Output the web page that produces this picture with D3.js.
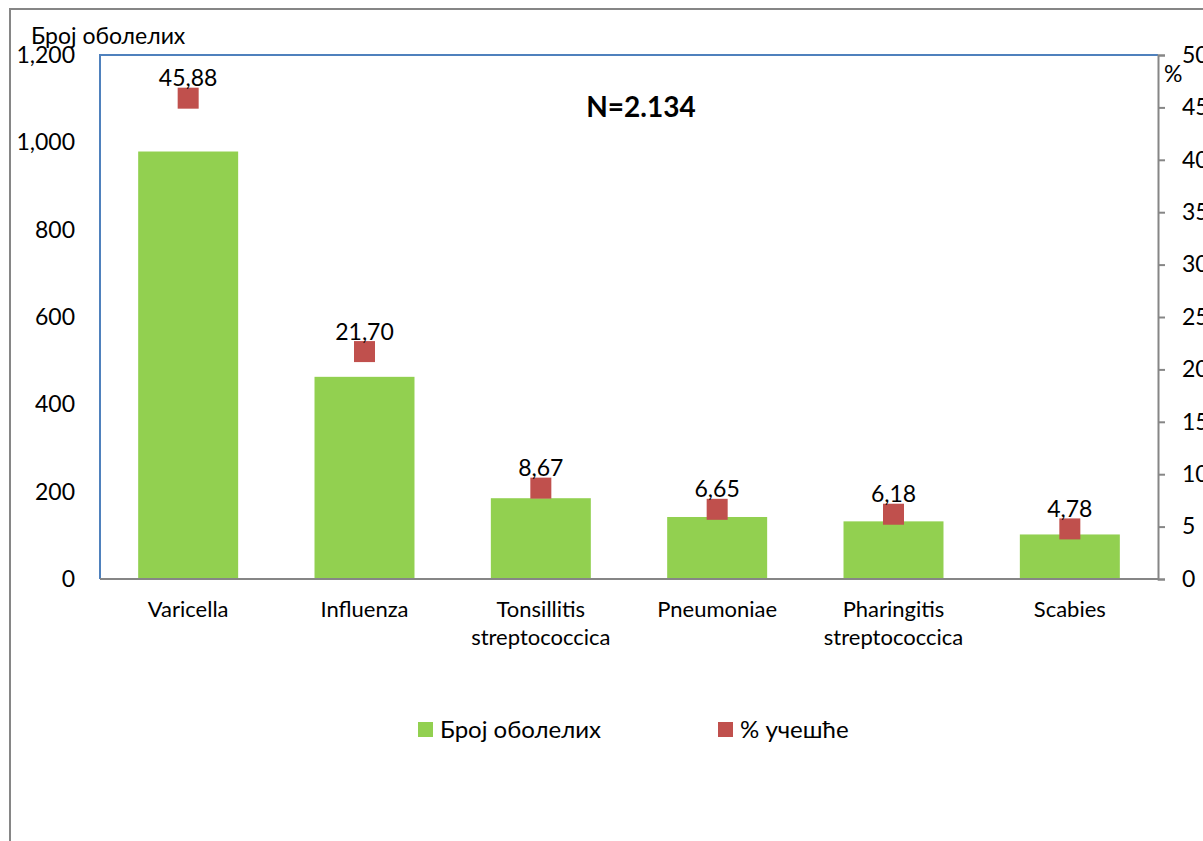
<!DOCTYPE html>
<html>
<head>
<meta charset="utf-8">
<script src="https://cdn.jsdelivr.net/npm/d3@7"></script>
<style>
  body { margin: 0; background: #fff; }
  svg { display: block; font-family: Lato, "Open Sans", sans-serif; }
</style>
</head>
<body>
<div id="chart"></div>
<script>
// categories and the two series
var diseases = [["Varicella"], ["Influenza"], ["Tonsillitis", "streptococcica"],
  ["Pneumoniae"], ["Pharingitis", "streptococcica"], ["Scabies"]];
var cases = [979, 463, 185, 142, 132, 102];
var shares = [45.88, 21.70, 8.67, 6.65, 6.18, 4.78];
var leftTicks = [0, 200, 400, 600, 800, 1000, 1200];
var rightTicks = [0, 5, 10, 15, 20, 25, 30, 35, 40, 45, 50];

var svgWidth = 1203, svgHeight = 841;
var margin = { top: 55, right: 45, bottom: 262, left: 100 };
var width = svgWidth - margin.left - margin.right;
var height = svgHeight - margin.top - margin.bottom;
var fs = 23;

var svg = d3.select("#chart").append("svg")
  .attr("width", svgWidth)
  .attr("height", svgHeight);

// outer chart frame (runs off the right and bottom edge)
svg.append("rect")
  .attr("x", 10).attr("y", 9)
  .attr("width", 1300).attr("height", 900)
  .attr("fill", "none").attr("stroke", "#868686").attr("stroke-width", 2);

var g = svg.append("g").attr("transform", `translate(${margin.left}, ${margin.top})`);

var idx = d3.range(diseases.length);
var x = d3.scaleBand().domain(idx).range([0, width]).paddingInner(0.433).paddingOuter(0.2165);
var y = d3.scaleLinear().domain([0, 1200]).range([height, 0]);
var y2 = d3.scaleLinear().domain([0, 50]).range([height, 0]);

// plot area border, left and top in blue
g.append("path")
  .attr("d", `M0,${height}V0H${width}`)
  .attr("fill", "none").attr("stroke", "#4F81BD").attr("stroke-width", 2);

// bars
g.selectAll("rect.bar")
  .data(cases)
  .enter().append("rect")
  .attr("class", "bar")
  .attr("x", (d, i) => x(i))
  .attr("y", d => y(d))
  .attr("width", x.bandwidth())
  .attr("height", d => height - y(d))
  .attr("fill", "#92D050");

// left axis, labels only
var leftAxis = g.append("g")
  .call(d3.axisLeft(y).tickValues(leftTicks).tickSize(0).tickPadding(25).tickFormat(d3.format(",")));
leftAxis.select(".domain").remove();
leftAxis.selectAll("text").attr("font-size", fs).attr("fill", "#000").attr("font-family", "Lato");

// bottom axis line
g.append("line")
  .attr("x1", 0).attr("x2", width)
  .attr("y1", height).attr("y2", height)
  .attr("stroke", "#868686").attr("stroke-width", 2);

// category labels
var catLabels = g.selectAll("text.cat")
  .data(diseases)
  .enter().append("text")
  .attr("class", "cat")
  .attr("text-anchor", "middle")
  .attr("font-size", 22)
  .attr("x", (d, i) => x(i) + x.bandwidth() / 2)
  .attr("y", height + 38);
catLabels.selectAll("tspan")
  .data(d => d)
  .enter().append("tspan")
  .attr("x", function() { return d3.select(this.parentNode).attr("x"); })
  .attr("dy", (d, i) => i === 0 ? 0 : 28)
  .text(d => d);

// right axis
var rightAxis = g.append("g")
  .attr("transform", `translate(${width}, 0)`)
  .call(d3.axisRight(y2).tickValues(rightTicks).tickSize(7).tickPadding(17));
rightAxis.select(".domain").attr("stroke", "#868686").attr("stroke-width", 2);
rightAxis.selectAll(".tick line").attr("stroke", "#868686").attr("stroke-width", 2);
rightAxis.selectAll("text").attr("font-size", fs).attr("fill", "#000").attr("font-family", "Lato");

// percentage markers
var sq = 21;
g.selectAll("rect.mark")
  .data(shares)
  .enter().append("rect")
  .attr("class", "mark")
  .attr("x", (d, i) => x(i) + x.bandwidth() / 2 - sq / 2)
  .attr("y", d => y2(d) - sq / 2)
  .attr("width", sq).attr("height", sq)
  .attr("fill", "#C0504D");

g.selectAll("text.val")
  .data(shares)
  .enter().append("text")
  .attr("class", "val")
  .attr("text-anchor", "middle")
  .attr("font-size", fs)
  .attr("x", (d, i) => x(i) + x.bandwidth() / 2)
  .attr("y", d => y2(d) - 12)
  .text(d => d.toFixed(2).replace(".", ","));

// axis titles
svg.append("text").attr("x", 31).attr("y", 44).attr("font-size", fs).text("Број оболелих");
svg.append("text").attr("x", 1164).attr("y", 82).attr("font-size", fs).text("%");

// N annotation
svg.append("text")
  .attr("x", 641).attr("y", 117)
  .attr("text-anchor", "middle")
  .attr("font-size", 28).attr("font-weight", "bold")
  .text("N=2.134");

// legend
var legendItems = [
  { label: "Број оболелих", color: "#92D050", x: 418 },
  { label: "% учешће", color: "#C0504D", x: 718 }
];
var legend = svg.selectAll("g.legend")
  .data(legendItems)
  .enter().append("g")
  .attr("class", "legend")
  .attr("transform", d => `translate(${d.x}, 722)`);
legend.append("rect").attr("width", 15).attr("height", 15).attr("fill", d => d.color);
legend.append("text").attr("x", 22).attr("y", 16).attr("font-size", 24).text(d => d.label);
</script>
</body>
</html>
